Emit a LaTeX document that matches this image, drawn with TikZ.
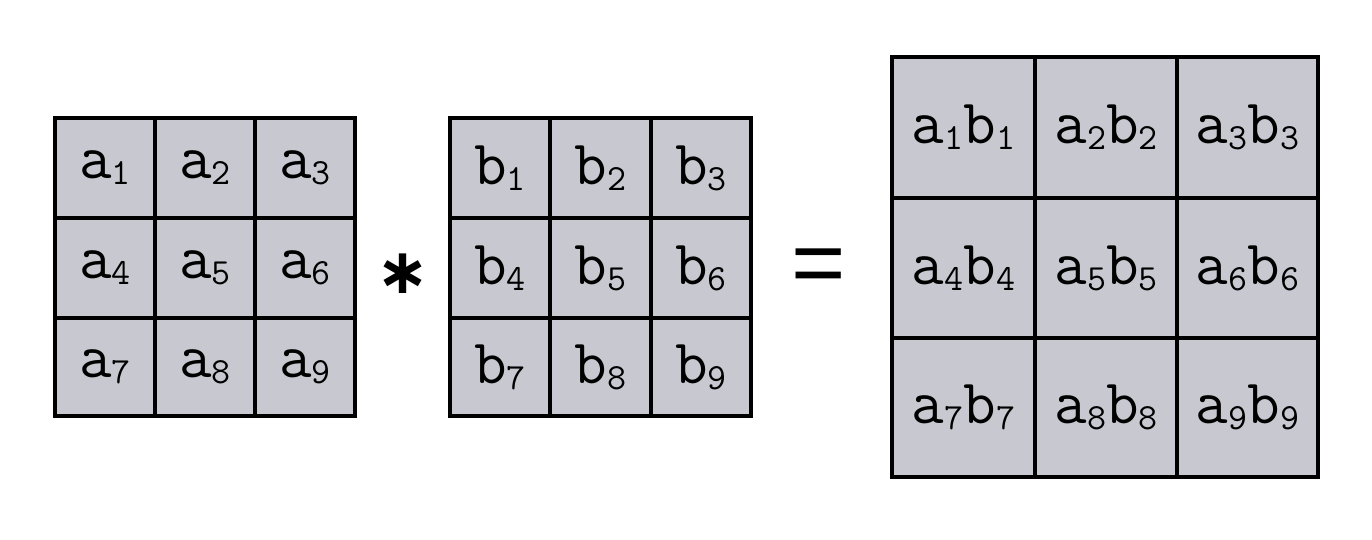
\documentclass[tikz,border=0pt]{standalone}
\usepackage{fontspec}
\newfontfamily\opfont{Liberation Sans}
\newfontfamily\astfont{DejaVu Sans}
\definecolor{cellgrey}{RGB}{200,201,208}
\newcommand{\sub}[1]{\raisebox{-3.4pt}{\fontsize{21}{21}\selectfont #1}}
\tikzset{
  cell/.style={draw=black, line width=2pt, fill=cellgrey},
  entry/.style={font=\ttfamily\fontsize{36}{36}\selectfont, inner sep=0pt},
}
\begin{document}
\begin{tikzpicture}[x=0.02cm, y=-0.02cm]
\useasboundingbox (0,0) rectangle (1372,540);

% left matrix
\draw[cell] (55,118) rectangle (155,218) node[entry,pos=.5] (a1) {a\sub{1}};
\draw[cell] (155,118) rectangle (255,218) node[entry,pos=.5] (a2) {a\sub{2}};
\draw[cell] (255,118) rectangle (355,218) node[entry,pos=.5] (a3) {a\sub{3}};
\draw[cell] (55,218) rectangle (155,318) node[entry,pos=.5] (a4) {a\sub{4}};
\draw[cell] (155,218) rectangle (255,318) node[entry,pos=.5] (a5) {a\sub{5}};
\draw[cell] (255,218) rectangle (355,318) node[entry,pos=.5] (a6) {a\sub{6}};
\draw[cell] (55,318) rectangle (155,416) node[entry,pos=.5] (a7) {a\sub{7}};
\draw[cell] (155,318) rectangle (255,416) node[entry,pos=.5] (a8) {a\sub{8}};
\draw[cell] (255,318) rectangle (355,416) node[entry,pos=.5] (a9) {a\sub{9}};

\node[font=\astfont\bfseries\fontsize{36}{36}\selectfont, inner sep=0pt] (times) at (403,274) {∗};

% middle matrix
\draw[cell] (450,118) rectangle (550,218) node[entry,pos=.5] (b1) {b\sub{1}};
\draw[cell] (550,118) rectangle (651,218) node[entry,pos=.5] (b2) {b\sub{2}};
\draw[cell] (651,118) rectangle (751,218) node[entry,pos=.5] (b3) {b\sub{3}};
\draw[cell] (450,218) rectangle (550,318) node[entry,pos=.5] (b4) {b\sub{4}};
\draw[cell] (550,218) rectangle (651,318) node[entry,pos=.5] (b5) {b\sub{5}};
\draw[cell] (651,218) rectangle (751,318) node[entry,pos=.5] (b6) {b\sub{6}};
\draw[cell] (450,318) rectangle (550,416) node[entry,pos=.5] (b7) {b\sub{7}};
\draw[cell] (550,318) rectangle (651,416) node[entry,pos=.5] (b8) {b\sub{8}};
\draw[cell] (651,318) rectangle (751,416) node[entry,pos=.5] (b9) {b\sub{9}};

\node[font=\opfont\fontsize{53}{53}\selectfont, inner sep=0pt] (equals) at (819,272) {=};

% result matrix
\draw[cell] (892,57) rectangle (1035,198) node[entry,pos=.5] (c1) {a\sub{1}b\sub{1}};
\draw[cell] (1035,57) rectangle (1177,198) node[entry,pos=.5] (c2) {a\sub{2}b\sub{2}};
\draw[cell] (1177,57) rectangle (1318,198) node[entry,pos=.5] (c3) {a\sub{3}b\sub{3}};
\draw[cell] (892,198) rectangle (1035,338) node[entry,pos=.5] (c4) {a\sub{4}b\sub{4}};
\draw[cell] (1035,198) rectangle (1177,338) node[entry,pos=.5] (c5) {a\sub{5}b\sub{5}};
\draw[cell] (1177,198) rectangle (1318,338) node[entry,pos=.5] (c6) {a\sub{6}b\sub{6}};
\draw[cell] (892,338) rectangle (1035,477) node[entry,pos=.5] (c7) {a\sub{7}b\sub{7}};
\draw[cell] (1035,338) rectangle (1177,477) node[entry,pos=.5] (c8) {a\sub{8}b\sub{8}};
\draw[cell] (1177,338) rectangle (1318,477) node[entry,pos=.5] (c9) {a\sub{9}b\sub{9}};
\end{tikzpicture}
\end{document}
